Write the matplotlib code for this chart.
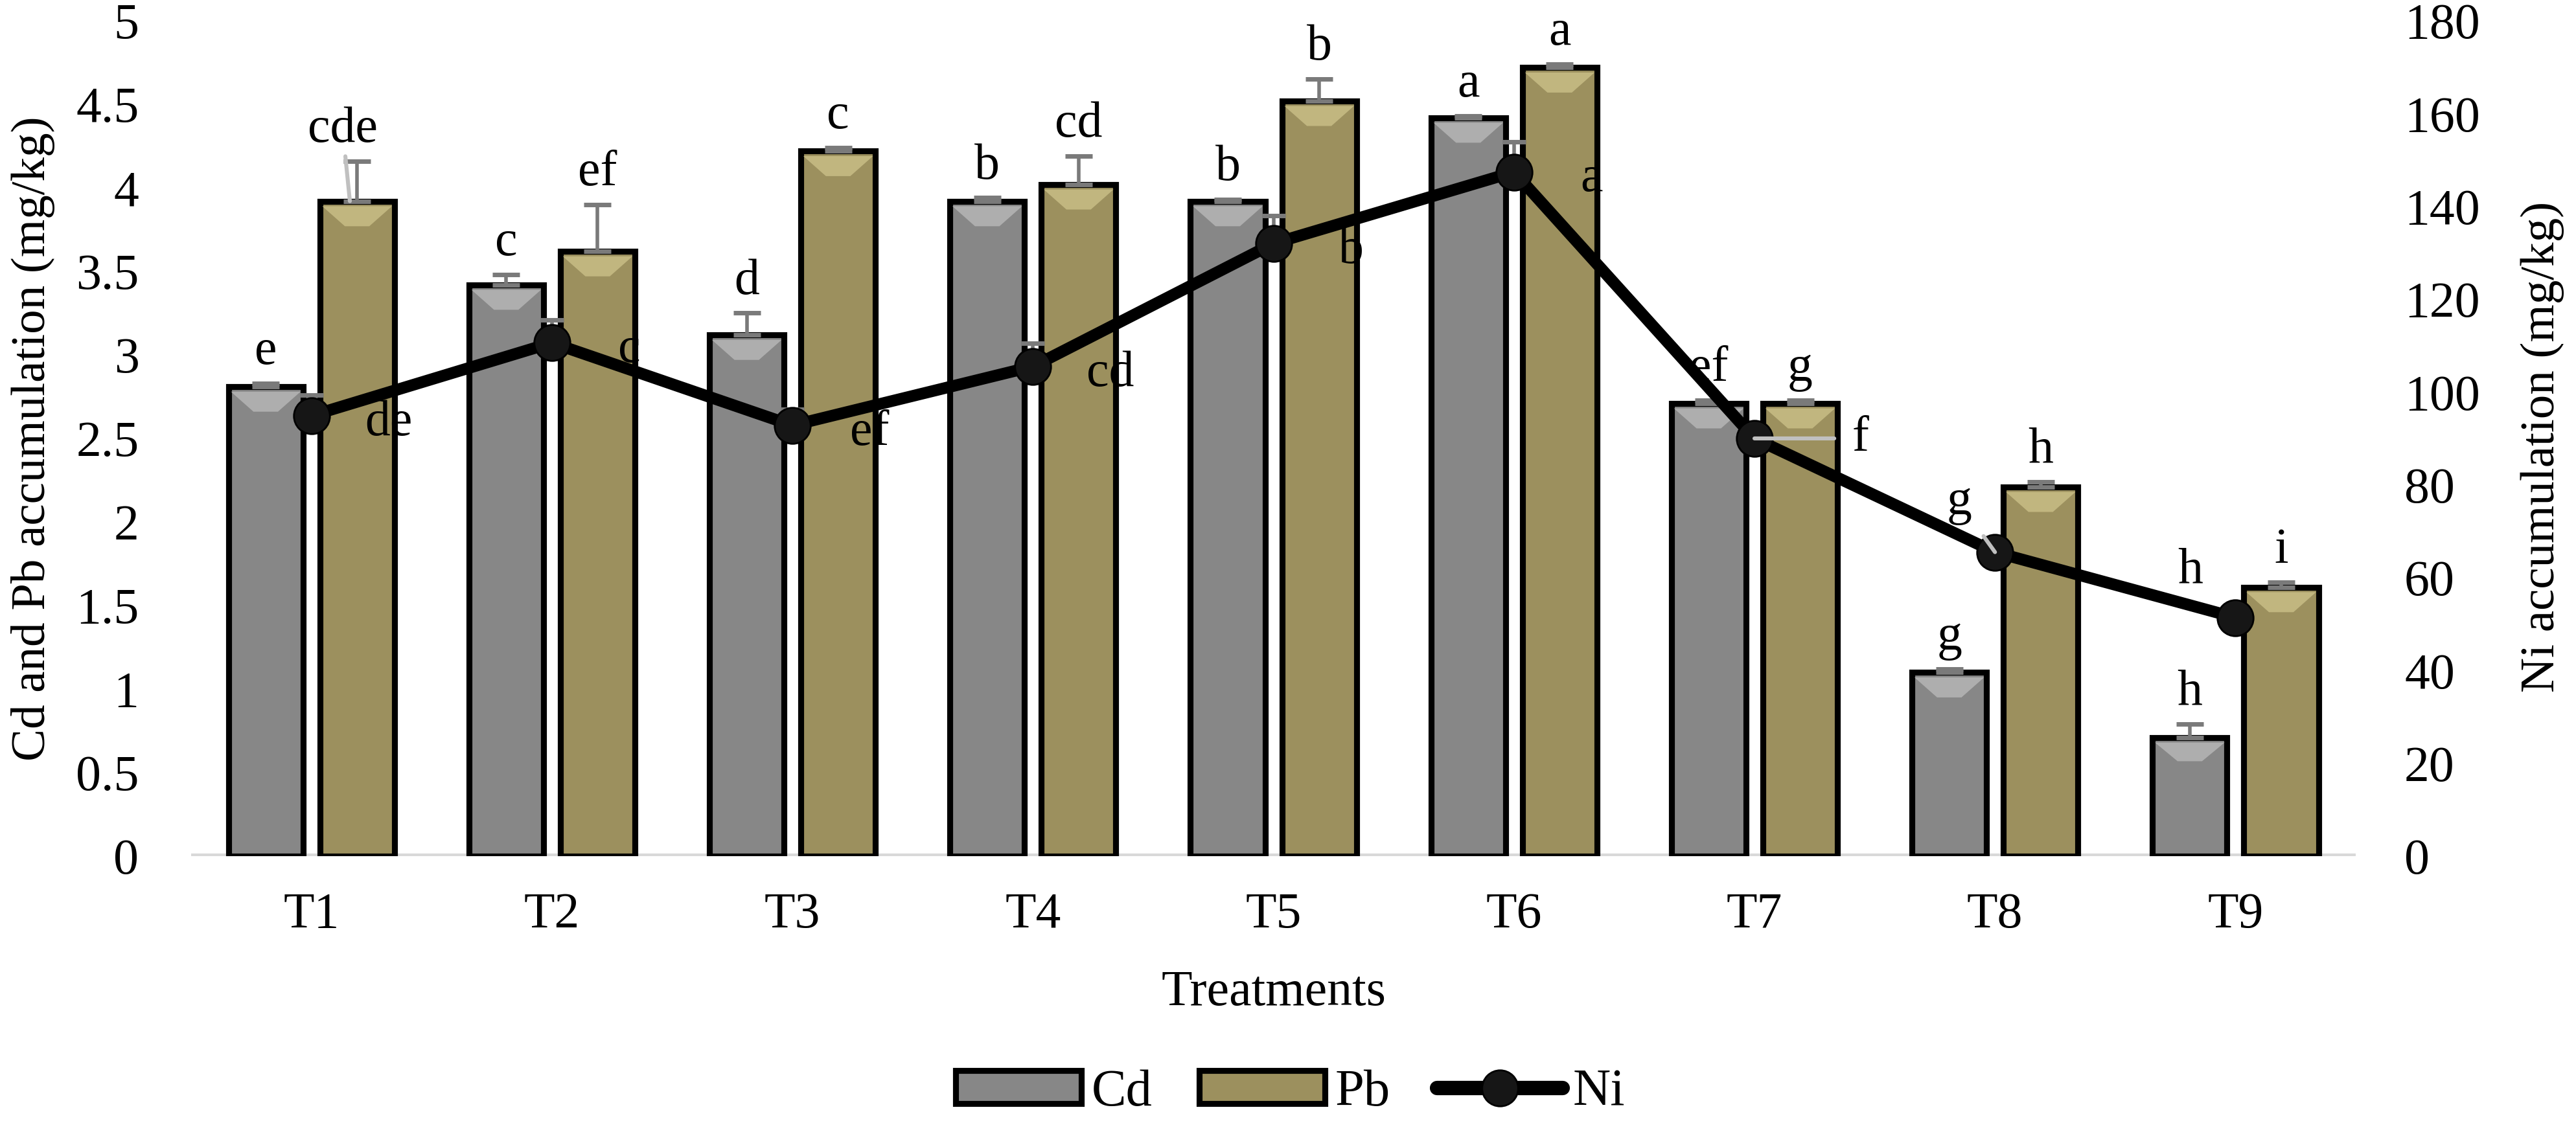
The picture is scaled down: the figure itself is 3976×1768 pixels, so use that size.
import numpy as np
import matplotlib
matplotlib.use("Agg")
import matplotlib.pyplot as plt
from matplotlib.lines import Line2D
from matplotlib.patches import Patch

plt.rcParams['font.family'] = ['Liberation Serif', 'DejaVu Serif']

# data
treatments = ['T1', 'T2', 'T3', 'T4', 'T5', 'T6', 'T7', 'T8', 'T9']
cd = [2.81, 3.42, 3.12, 3.92, 3.92, 4.42, 2.71, 1.10, 0.71]
pb = [3.92, 3.62, 4.22, 4.02, 4.52, 4.72, 2.71, 2.21, 1.61]
ni = [94.9, 110.6, 92.8, 105.5, 132.0, 147.4, 90.0, 65.5, 51.4]
cd_err = [0.02, 0.06, 0.13, 0.02, 0.01, 0.01, 0.02, 0.02, 0.08]
pb_err = [0.24, 0.28, 0.02, 0.17, 0.13, 0.02, 0.02, 0.03, 0.03]
ni_err = [4.5, 5, 3.5, 5, 6, 6.5, 2, 1, 1]
cd_letters = ['e', 'c', 'd', 'b', 'b', 'a', 'ef', 'g', 'h']
pb_letters = ['cde', 'ef', 'c', 'cd', 'b', 'a', 'g', 'h', 'i']
ni_letters = ['de', 'c', 'ef', 'cd', 'b', 'a', 'f', 'g', 'h']

cd_color = '#878787'
pb_color = '#9c905e'
err_color = '#7a7a7a'
lead_color = '#c0c0c0'

x = np.arange(len(treatments))
w = 0.31
off = 0.19

fig = plt.figure(figsize=(19.88, 8.84), dpi=200)
ax = fig.add_axes([0.0742, 0.2523, 0.8403, 0.7296])

ax.bar(x - off, cd, w, color=cd_color, edgecolor='black', linewidth=3.3, zorder=2)
ax.bar(x + off, pb, w, color=pb_color, edgecolor='black', linewidth=3.3, zorder=2)

# bevel highlight at the top of each bar
def bevel(xc, h, col):
    hw = w / 2 - 0.01
    d = min(0.15, h * 0.2)
    ax.fill([xc - hw, xc + hw, xc + hw * 0.35, xc - hw * 0.35],
            [h - 0.03, h - 0.03, h - d, h - d], color=col, alpha=0.55, lw=0, zorder=2.5)

for i in range(len(x)):
    bevel(x[i] - off, cd[i], '#d0d0d0')
    bevel(x[i] + off, pb[i], '#e0d69c')

ax.errorbar(x - off, cd, yerr=[np.zeros(9), cd_err], fmt='none', ecolor=err_color,
            elinewidth=2, capsize=7.5, capthick=2.5, zorder=3)
ax.errorbar(x + off, pb, yerr=[np.zeros(9), pb_err], fmt='none', ecolor=err_color,
            elinewidth=2, capsize=7.5, capthick=2.5, zorder=3)

for i in range(len(x)):
    ax.text(x[i] - off, cd[i] + cd_err[i] + 0.05, cd_letters[i], ha='center', va='bottom', fontsize=28)
    if i == 0:
        ax.annotate(pb_letters[i], (x[i] + off - 0.03, pb[i]), xytext=(x[i] + off - 0.06, pb[i] + pb_err[i] + 0.05),
                    ha='center', va='bottom', fontsize=28,
                    arrowprops=dict(arrowstyle='-', color=lead_color, lw=2.2, shrinkA=0, shrinkB=0))
    else:
        ax.text(x[i] + off, pb[i] + pb_err[i] + 0.05, pb_letters[i], ha='center', va='bottom', fontsize=28)

ax.axhline(0, color='#d9d9d9', linewidth=3, zorder=1)
ax.set_xlim(-0.5, 8.5)
ax.set_ylim(0, 5)
ax.set_yticks(np.arange(0, 5.01, 0.5))
ax.set_yticklabels(['0', '0.5', '1', '1.5', '2', '2.5', '3', '3.5', '4', '4.5', '5'])
ax.set_xticks(x)
ax.set_xticklabels(treatments)
ax.tick_params(axis='both', length=0, labelsize=28)
ax.tick_params(axis='y', pad=29)
ax.tick_params(axis='x', pad=20)
for s in ax.spines.values():
    s.set_visible(False)

ax.set_ylabel('Cd and Pb accumulation (mg/kg)', fontsize=27)
ax.yaxis.set_label_coords(-0.063, 0.5)
ax.set_xlabel('Treatments', fontsize=28)
ax.xaxis.set_label_coords(0.5, -0.136)

ax2 = ax.twinx()
ax2.errorbar(x, ni, yerr=[np.zeros(9), ni_err], fmt='none', ecolor=err_color,
             elinewidth=2, capsize=6.5, capthick=2.5, zorder=4)
ax2.plot(x, ni, color='black', linewidth=6.5, marker='o', markersize=20,
         markerfacecolor='#161616', markeredgecolor='black', zorder=5)
ni_offsets = [(43, -4)] * 6 + [(59, 0), (-20, 28), (-25, 26)]
for i in range(len(x)):
    dx, dy = ni_offsets[i]
    props = None
    if i in (6, 7):
        props = dict(arrowstyle='-', color=lead_color, lw=2.2, shrinkA=8, shrinkB=0)
    ax2.annotate(ni_letters[i], (x[i], ni[i]), xytext=(dx, dy), textcoords='offset points',
                 ha='center', va='center', fontsize=28, arrowprops=props, zorder=6)
ax2.set_ylim(0, 180)
ax2.set_yticks(np.arange(0, 181, 20))
ax2.tick_params(axis='y', length=0, labelsize=28, pad=27)
for s in ax2.spines.values():
    s.set_visible(False)
ax2.set_ylabel('Ni accumulation (mg/kg)', fontsize=27)
ax2.yaxis.set_label_coords(1.076, 0.49)

handles = [Patch(facecolor=cd_color, edgecolor='black', linewidth=3.3),
           Patch(facecolor=pb_color, edgecolor='black', linewidth=3.3),
           Line2D([0], [0], color='black', linewidth=8, marker='o', markersize=20,
                  markerfacecolor='#161616', solid_capstyle='round')]
fig.legend(handles, ['Cd', 'Pb', 'Ni'], loc='lower center', bbox_to_anchor=(0.501, 0.0),
           ncol=3, frameon=False, fontsize=29, handlelength=2.4, handleheight=0.6,
           handletextpad=0.2, columnspacing=0.9, borderaxespad=0.15)

fig.savefig('out.png', dpi=200)
